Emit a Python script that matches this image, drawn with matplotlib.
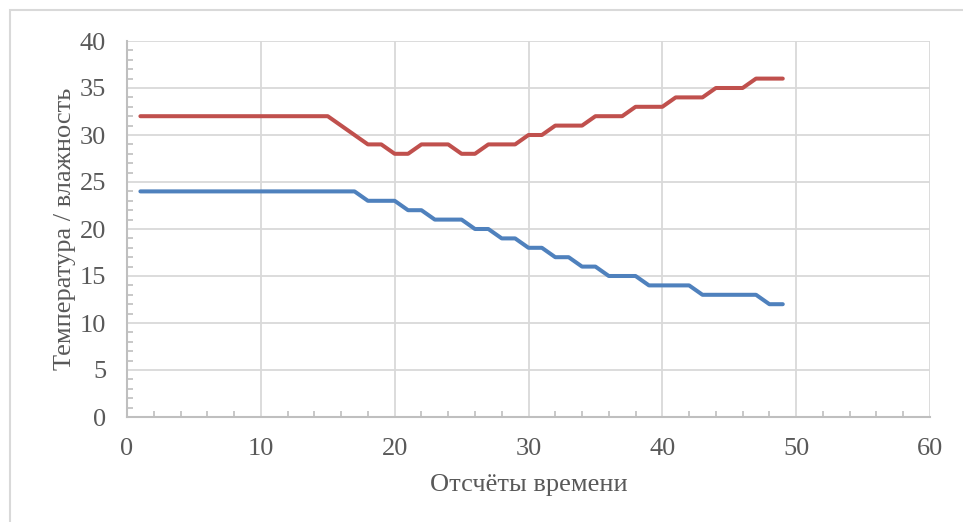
import numpy as np
import matplotlib.pyplot as plt
from matplotlib.patches import Rectangle
from matplotlib.ticker import MultipleLocator

# Отсчёты времени и показания двух датчиков
otschety = list(range(1, 50))
vlazhnost = [32] * 15 + [31, 30, 29, 29, 28, 28, 29, 29, 29, 28, 28, 29, 29, 29,
                         30, 30, 31, 31, 31, 32, 32, 32, 33, 33, 33, 34, 34, 34,
                         35, 35, 35, 36, 36, 36]
temperatura = [24] * 17 + [23, 23, 23, 22, 22, 21, 21, 21, 20, 20, 19, 19, 18, 18,
                           17, 17, 16, 16, 15, 15, 15, 14, 14, 14, 14, 13, 13, 13,
                           13, 13, 12, 12]

plt.rcParams['font.family'] = ['Liberation Serif', 'DejaVu Serif']
seryi = '#595959'

fig = plt.figure(figsize=(9.63, 5.22), dpi=100)
fig.patches.append(Rectangle((10 / 963, -0.1), 1.2, 1 - 10 / 522 + 0.1,
                             transform=fig.transFigure, fill=False,
                             edgecolor='#d9d9d9', linewidth=1.5))

ax = fig.add_axes([127 / 963, 1 - 417 / 522, 803 / 963, 376 / 522])
ax.plot(otschety, vlazhnost, color='#C0504D', linewidth=2.9,
        solid_capstyle='round', solid_joinstyle='round')
ax.plot(otschety, temperatura, color='#4F81BD', linewidth=2.9,
        solid_capstyle='round', solid_joinstyle='round')

ax.set_xlim(0, 60)
ax.set_ylim(0, 40)
ax.xaxis.set_major_locator(MultipleLocator(10))
ax.xaxis.set_minor_locator(MultipleLocator(2))
ax.yaxis.set_major_locator(MultipleLocator(5))
ax.yaxis.set_minor_locator(MultipleLocator(1))
ax.grid(True, which='major', color='#d9d9d9', linewidth=1.3)
ax.set_axisbelow(True)

for side in ['left', 'bottom', 'top', 'right']:
    ax.spines[side].set_color('#bfbfbf')
    ax.spines[side].set_linewidth(1.5)
ax.spines['top'].set_visible(False)
ax.spines['right'].set_visible(False)

ax.tick_params(which='major', length=0, labelsize=19, labelcolor=seryi)
ax.tick_params(axis='y', which='major', pad=15)
ax.tick_params(axis='x', which='major', pad=15)
ax.tick_params(which='minor', direction='in', length=4, width=1.2, color='#bfbfbf')

ax.set_xlabel('Отсчёты времени', fontsize=19, color=seryi, labelpad=10)
ax.set_ylabel('Температура / влажность', fontsize=19, color=seryi, labelpad=3)

fig.savefig('out.png', dpi=100)
